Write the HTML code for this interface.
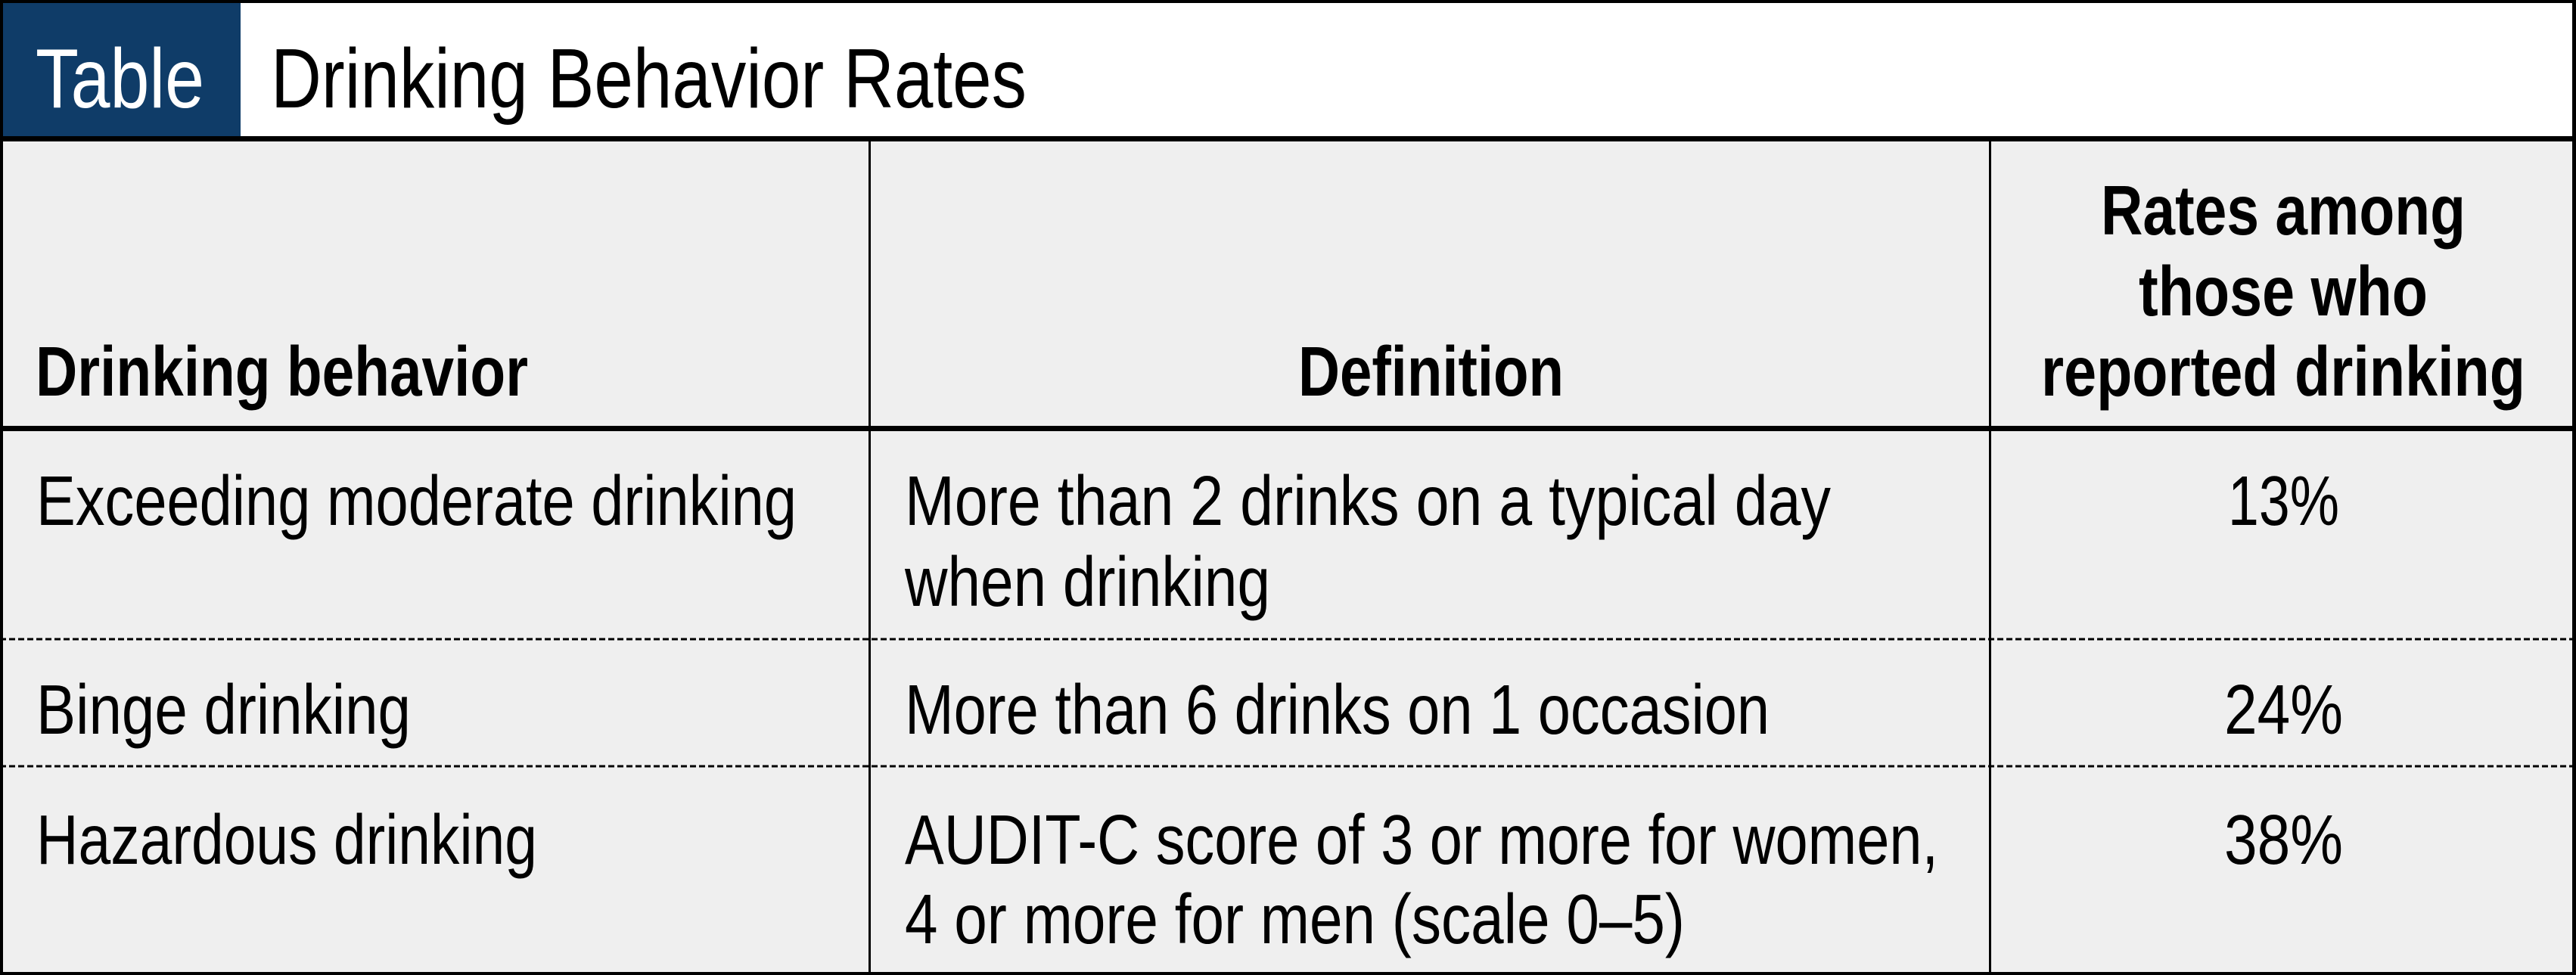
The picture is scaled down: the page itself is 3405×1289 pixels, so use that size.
<!DOCTYPE html>
<html><head><meta charset="utf-8"><style>
html,body{margin:0;padding:0;background:#fff;}
svg{display:block;}
text{font-family:"Liberation Sans Narrow","Liberation Sans",sans-serif;fill:#000;}
.b{font-weight:bold;font-size:93px;}
.r{font-size:93px;}
</style></head><body>
<svg width="3405" height="1289" viewBox="0 0 3405 1289" xmlns="http://www.w3.org/2000/svg">
<rect x="0" y="0" width="3405" height="1289" fill="#fff"/>
<rect x="0" y="187" width="3405" height="1102" fill="#efefef"/>
<rect x="0" y="0" width="318" height="181" fill="#0f3c68"/>
<!-- borders -->
<rect x="0" y="0" width="3405" height="4" fill="#000"/>
<rect x="0" y="0" width="4" height="1289" fill="#000"/>
<rect x="3400" y="0" width="5" height="1289" fill="#000"/>
<rect x="0" y="1285" width="3405" height="4" fill="#000"/>
<rect x="0" y="180" width="3405" height="7" fill="#000"/>
<rect x="0" y="563" width="3405" height="7" fill="#000"/>
<rect x="1148" y="187" width="3" height="1100" fill="#000"/>
<rect x="2629" y="187" width="3" height="1100" fill="#000"/>
<line x1="0" y1="845" x2="3405" y2="845" stroke="#000" stroke-width="3" stroke-dasharray="8,4"/>
<line x1="0" y1="1013" x2="3405" y2="1013" stroke="#000" stroke-width="3" stroke-dasharray="8,4"/>
<!-- title -->
<text x="47" y="142" font-size="111" style="fill:#fff" textLength="223" lengthAdjust="spacingAndGlyphs">Table</text>
<text x="358" y="142" font-size="111" textLength="999" lengthAdjust="spacingAndGlyphs">Drinking Behavior Rates</text>
<!-- header -->
<text class="b" x="47" y="523" textLength="651" lengthAdjust="spacingAndGlyphs">Drinking behavior</text>
<text class="b" x="1716" y="523" textLength="351" lengthAdjust="spacingAndGlyphs">Definition</text>
<text class="b" x="2777" y="310" textLength="482" lengthAdjust="spacingAndGlyphs">Rates among</text>
<text class="b" x="2827" y="417" textLength="382" lengthAdjust="spacingAndGlyphs">those who</text>
<text class="b" x="2698" y="523" textLength="640" lengthAdjust="spacingAndGlyphs">reported drinking</text>
<!-- row 1 -->
<text class="r" x="48" y="694" textLength="1005" lengthAdjust="spacingAndGlyphs">Exceeding moderate drinking</text>
<text class="r" x="1196" y="694" textLength="1224" lengthAdjust="spacingAndGlyphs">More than 2 drinks on a typical day</text>
<text class="r" x="1196" y="801" textLength="483" lengthAdjust="spacingAndGlyphs">when drinking</text>
<text class="r" x="2945" y="694" textLength="147" lengthAdjust="spacingAndGlyphs">13%</text>
<!-- row 2 -->
<text class="r" x="48" y="970" textLength="495" lengthAdjust="spacingAndGlyphs">Binge drinking</text>
<text class="r" x="1196" y="970" textLength="1143" lengthAdjust="spacingAndGlyphs">More than 6 drinks on 1 occasion</text>
<text class="r" x="2940" y="970" textLength="157" lengthAdjust="spacingAndGlyphs">24%</text>
<!-- row 3 -->
<text class="r" x="48" y="1142" textLength="662" lengthAdjust="spacingAndGlyphs">Hazardous drinking</text>
<text class="r" x="1196" y="1142" textLength="1366" lengthAdjust="spacingAndGlyphs">AUDIT-C score of 3 or more for women,</text>
<text class="r" x="1196" y="1247" textLength="1031" lengthAdjust="spacingAndGlyphs">4 or more for men (scale 0–5)</text>
<text class="r" x="2940" y="1142" textLength="157" lengthAdjust="spacingAndGlyphs">38%</text>
</svg>
</body></html>
